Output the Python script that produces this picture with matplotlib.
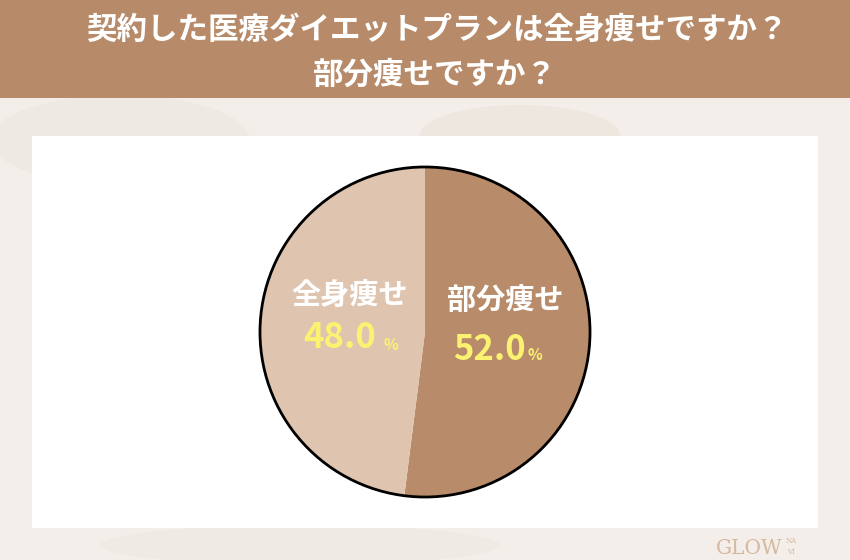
import matplotlib.pyplot as plt
from matplotlib.patches import Rectangle, Ellipse

plt.rcParams['font.family'] = ['Noto Sans CJK JP', 'DejaVu Sans']

title_lines = ['契約した医療ダイエットプランは全身痩せですか？', '部分痩せですか？']
labels = ['部分痩せ', '全身痩せ']
values = [52.0, 48.0]
colors = ['#b88c6a', '#dfc5b0']

W, H = 850, 560
fig = plt.figure(figsize=(W / 100, H / 100), dpi=100)
fig.patch.set_facecolor('#f3eee9')

# background layer in pixel coords
bg = fig.add_axes([0, 0, 1, 1])
bg.set_xlim(0, W)
bg.set_ylim(H, 0)
bg.axis('off')
# soft marble-ish blobs
bg.add_patch(Ellipse((120, 140), 260, 90, color='#ede6e0', alpha=0.5, lw=0))
bg.add_patch(Ellipse((520, 135), 200, 60, color='#eae1d8', alpha=0.5, lw=0))
bg.add_patch(Ellipse((300, 545), 400, 40, color='#eee7e1', alpha=0.5, lw=0))
bg.add_patch(Rectangle((0, 0), W, 98, color='#b78b69', lw=0))
bg.add_patch(Rectangle((32, 136), 786, 392, color='white', lw=0))

bg.text(437, 30, title_lines[0], color='white', fontsize=22, fontweight='bold',
        ha='center', va='center')
bg.text(435, 75, title_lines[1], color='white', fontsize=22, fontweight='bold',
        ha='center', va='center')

# logo
bg.text(716, 548, 'GLOW', color='#d6b89f', fontsize=14.5, family='DejaVu Serif',
        ha='left', va='center')
bg.text(786, 541, 'NA', color='#d6b89f', fontsize=5, family='DejaVu Serif',
        ha='left', va='center')
bg.text(787, 552, 'VI', color='#d6b89f', fontsize=5, family='DejaVu Serif',
        ha='left', va='center')

# pie
r = 165
cx, cy = 425, 332
ax = fig.add_axes([(cx - r - 2) / W, 1 - (cy + r + 2) / H, (2 * r + 4) / W, (2 * r + 4) / H])
ax.pie(values, colors=colors, startangle=90, counterclock=False,
       wedgeprops=dict(linewidth=0), radius=1)
ax.add_patch(plt.Circle((0, 0), 1, fill=False, ec='black', lw=2))
ax.set_xlim(-1.012, 1.012)
ax.set_ylim(-1.012, 1.012)
ax.set_aspect('equal')
ax.axis('off')

# overlay for slice labels
top = fig.add_axes([0, 0, 1, 1])
top.set_xlim(0, W)
top.set_ylim(H, 0)
top.axis('off')
top.patch.set_alpha(0)

yellow = '#faf270'
top.text(505, 300, labels[0], color='white', fontsize=21, fontweight='bold', ha='center', va='center')
top.text(489, 349, f'{values[0]:.1f}', color=yellow, fontsize=25, fontweight='bold', ha='center', va='center')
top.text(535, 355, '%', color=yellow, fontsize=11, fontweight='bold', ha='center', va='center')
top.text(350, 295, labels[1], color='white', fontsize=21, fontweight='bold', ha='center', va='center')
top.text(340, 338, f'{values[1]:.1f}', color=yellow, fontsize=25, fontweight='bold', ha='center', va='center')
top.text(391, 345, '%', color=yellow, fontsize=11, fontweight='bold', ha='center', va='center')

fig.savefig('out.png', dpi=100, facecolor=fig.get_facecolor())
